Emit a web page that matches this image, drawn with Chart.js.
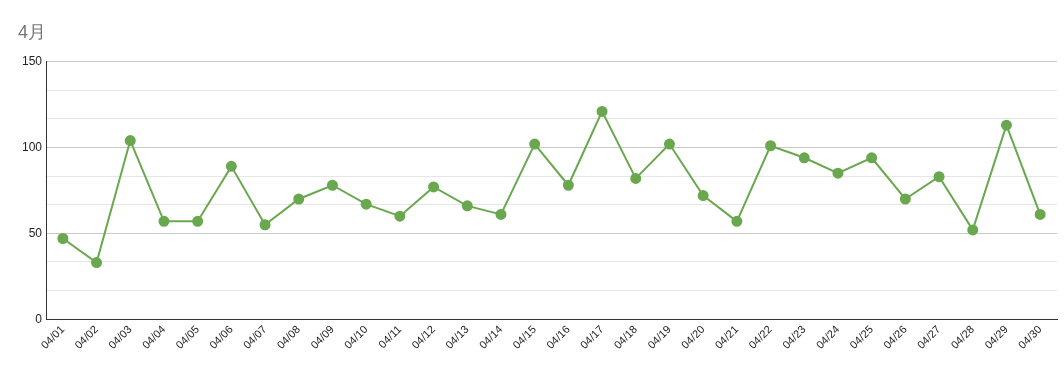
<!DOCTYPE html>
<html>
<head>
    <meta charset="utf-8" />
    <title>4月</title>
    <style>
        body { margin: 0; background: #fff; }
    </style>
</head>
<body>
    <canvas id="myChart" width="1064" height="371"></canvas>
    <script src="https://cdn.jsdelivr.net/npm/chart.js@4/dist/chart.umd.min.js"></script>
    <script>
        var titleText = '4月';
        var days = ['04/01', '04/02', '04/03', '04/04', '04/05', '04/06', '04/07', '04/08', '04/09', '04/10',
            '04/11', '04/12', '04/13', '04/14', '04/15', '04/16', '04/17', '04/18', '04/19', '04/20',
            '04/21', '04/22', '04/23', '04/24', '04/25', '04/26', '04/27', '04/28', '04/29', '04/30'];
        var values = [47, 33, 104, 57, 57, 89, 55, 70, 78, 67,
            60, 77, 66, 61, 102, 78, 121, 82, 102, 72,
            57, 101, 94, 85, 94, 70, 83, 52, 113, 61];
        var yMin = 0;
        var yMax = 150;
        var yLabelStep = 50;

        var green = '#6aa84f';

        function isMajor(v) {
            return Math.abs(Math.round(v) - v) < 0.01 && Math.round(v) % yLabelStep === 0;
        }

        var context = document.getElementById('myChart').getContext('2d');
        var chart = new Chart(context, {
            type: 'line',
            data: {
                labels: days,
                datasets: [{
                    label: titleText,
                    data: values,
                    borderColor: green,
                    backgroundColor: green,
                    borderWidth: 2,
                    pointRadius: 4.5,
                    pointHoverRadius: 5,
                    pointBackgroundColor: green,
                    pointBorderColor: green,
                    tension: 0
                }]
            },
            options: {
                responsive: false,
                animation: false,
                layout: { padding: { left: 18, right: 6, top: 10, bottom: 15 } },
                plugins: {
                    legend: { display: false },
                    tooltip: { enabled: false },
                    title: {
                        display: true,
                        text: titleText,
                        align: 'start',
                        color: '#757575',
                        font: { family: 'Liberation Sans, Arial, sans-serif', size: 18, weight: 'normal' },
                        padding: { top: 12, bottom: 18 }
                    }
                },
                scales: {
                    x: {
                        offset: true,
                        grid: { display: false, drawTicks: false },
                        border: { color: '#333', width: 1 },
                        ticks: {
                            color: '#222',
                            minRotation: 45,
                            maxRotation: 45,
                            autoSkip: false,
                            padding: 4,
                            font: { family: 'Liberation Sans, Arial, sans-serif', size: 11 }
                        }
                    },
                    y: {
                        min: yMin,
                        max: yMax,
                        grid: {
                            drawTicks: false,
                            color: function (ctx) {
                                return isMajor(ctx.tick.value) ? '#c8c8c8' : '#e6e6e6';
                            }
                        },
                        border: { color: '#333', width: 1 },
                        ticks: {
                            count: 10,
                            color: '#222',
                            padding: 4,
                            font: { family: 'Liberation Sans, Arial, sans-serif', size: 12 },
                            callback: function (v) {
                                return isMajor(v) ? Math.round(v) : '';
                            }
                        }
                    }
                }
            }
        });
    </script>
</body>
</html>
